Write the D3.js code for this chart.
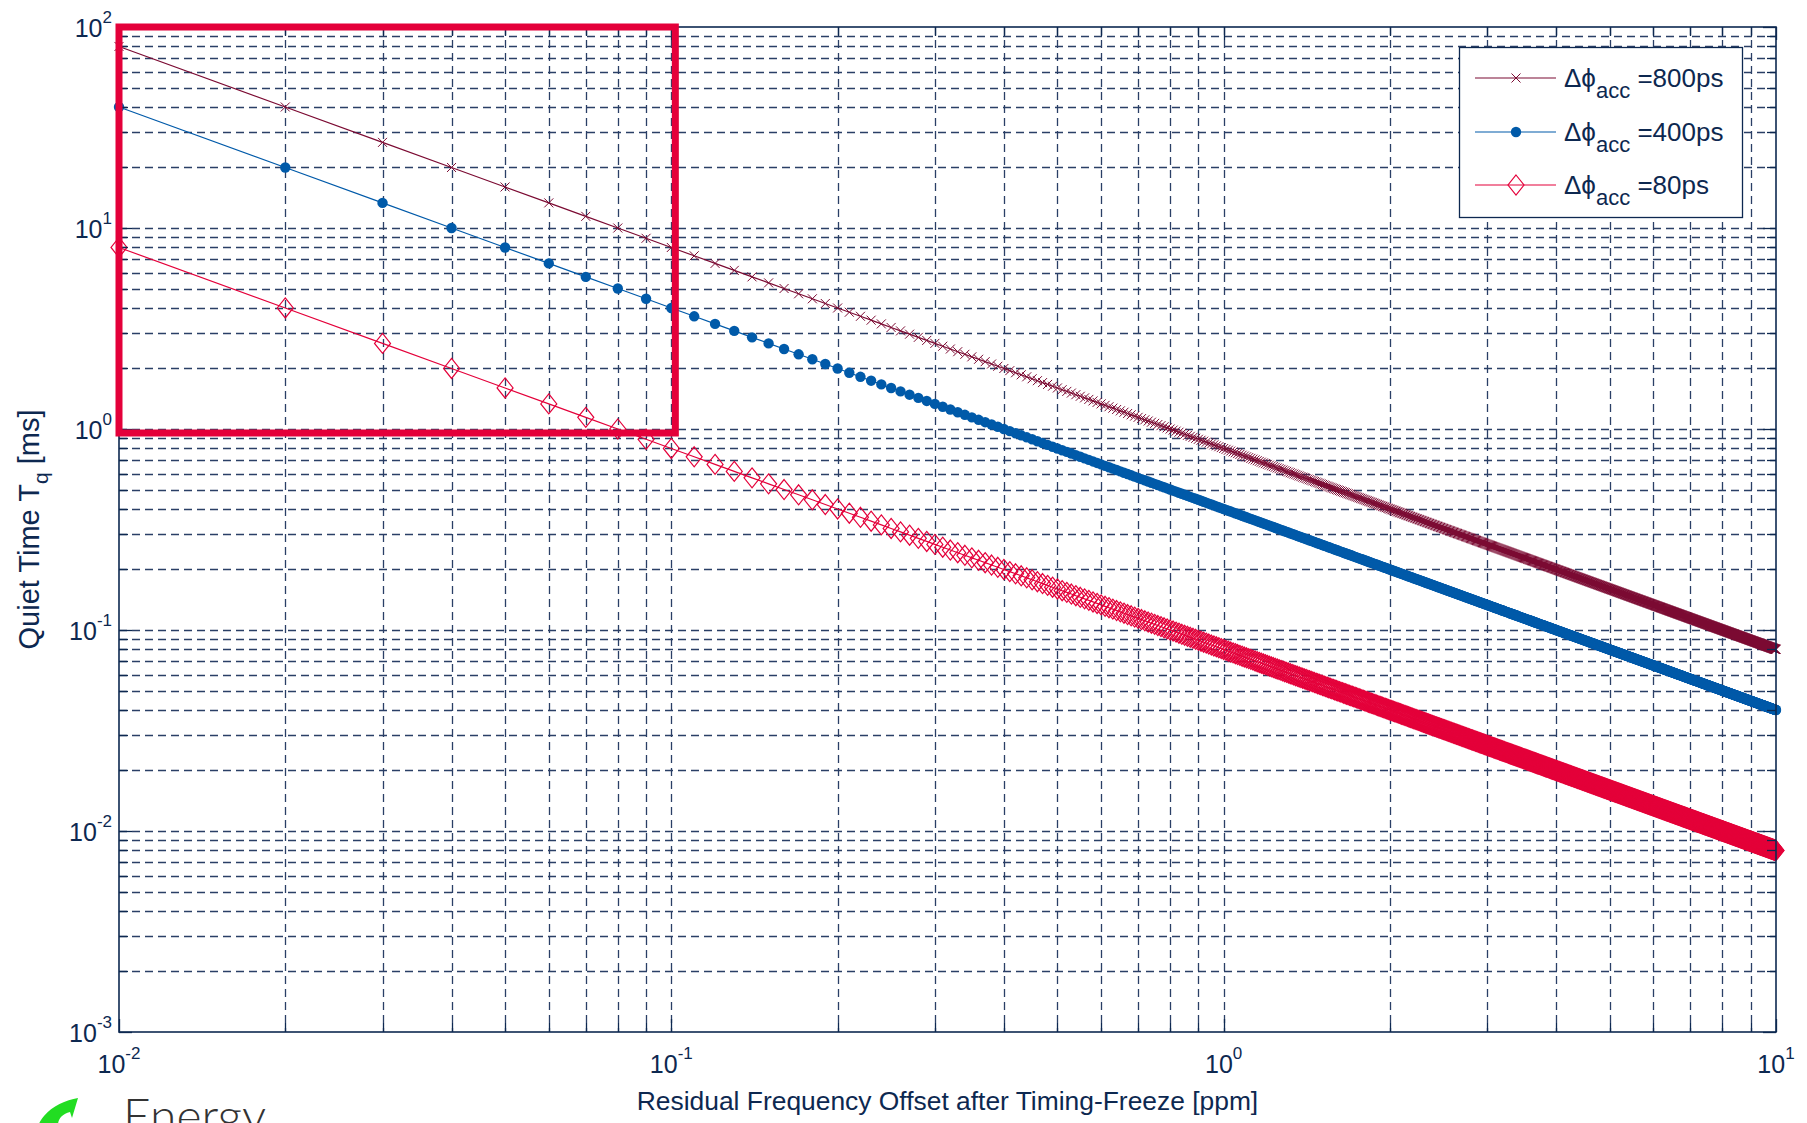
<!DOCTYPE html>
<html>
<head>
<meta charset="utf-8">
<script src="https://cdn.jsdelivr.net/npm/d3@7"></script>
<style>
  html, body { margin: 0; padding: 0; background: #ffffff; }
  svg { display: block; }
  text { font-family: "Liberation Sans", Arial, sans-serif; fill: #0d2850; }
</style>
</head>
<body>
<svg id="chart" width="1807" height="1123"></svg>
<script>
// Accumulated phase budgets (ps) for the three curves
const phaseBudgets = [800, 400, 80];
const seriesLabels = ["=800ps", "=400ps", "=80ps"];
const seriesColors = ["#7b0a32", "#005aa9", "#e4003a"];
const seriesMarkers = ["cross", "dot", "diamond"];

// Residual frequency offset sample grid (ppm): 0.01 ... 10 in steps of 0.01
const offsetSamples = d3.range(1, 1001).map(i => i / 100);

// Axis limits and decade tick labels
const xDomain = [0.01, 10];
const yDomain = [0.001, 100];
const xTickExponents = [-2, -1, 0, 1];
const yTickExponents = [-3, -2, -1, 0, 1, 2];

// Quiet time T_q [ms] = phase budget / frequency offset
// (ps / ppm = 1e-12 s / 1e-6 = 1e-6 s  ->  1e-3 ms)
const series = phaseBudgets.map((phi, k) => ({
  phi,
  label: seriesLabels[k],
  color: seriesColors[k],
  marker: seriesMarkers[k],
  points: offsetSamples.map(f => ({ f, t: phi / f * 1e-3 }))
}));

const svg = d3.select("#chart");
const plotL = 119, plotR = 1776, plotT = 27, plotB = 1032;

const x = d3.scaleLog().domain(xDomain).range([plotL, plotR]);
const y = d3.scaleLog().domain(yDomain).range([plotB, plotT]);

const navy = "#0d2850";

// decade + minor tick values
function logTicks(lo, hi) {
  const out = [];
  for (let e = Math.round(Math.log10(lo)); e < Math.round(Math.log10(hi)); e++) {
    for (let m = 1; m <= 9; m++) out.push(m * Math.pow(10, e));
  }
  out.push(hi);
  return out;
}
const xTicks = logTicks(xDomain[0], xDomain[1]);
const yTicks = logTicks(yDomain[0], yDomain[1]);
const isMajor = v => Math.abs(Math.log10(v) - Math.round(Math.log10(v))) < 1e-9;

// grid
const grid = svg.append("g").attr("stroke", "#2a3f66").attr("stroke-width", 1.3)
  .attr("stroke-dasharray", "8,5").attr("fill", "none");
grid.selectAll("line.gx").data(xTicks.filter(v => v > xDomain[0] * 1.001 && v < xDomain[1] * 0.999)).join("line")
  .attr("x1", d => Math.round(x(d)) + 0.5).attr("x2", d => Math.round(x(d)) + 0.5)
  .attr("y1", plotT).attr("y2", plotB);
grid.selectAll("line.gy").data(yTicks.filter(v => v > yDomain[0] * 1.001 && v < yDomain[1] * 0.999)).join("line")
  .attr("y1", d => Math.round(y(d)) + 0.5).attr("y2", d => Math.round(y(d)) + 0.5)
  .attr("x1", plotL).attr("x2", plotR);

// series
svg.append("clipPath").attr("id", "plotclip").append("rect")
  .attr("x", plotL - 12).attr("y", plotT - 12).attr("width", plotR - plotL + 24).attr("height", plotB - plotT + 24);

const line = d3.line().x(d => x(d.f)).y(d => y(d.t));

function drawMarker(g, type, color, px, py) {
  if (type === "cross") {
    const s = 4.5;
    g.append("path").attr("d", `M${px - s},${py - s}L${px + s},${py + s}M${px - s},${py + s}L${px + s},${py - s}`)
      .attr("stroke", color).attr("stroke-width", 1.0).attr("fill", "none");
  } else if (type === "dot") {
    g.append("circle").attr("cx", px).attr("cy", py).attr("r", 5.2).attr("fill", color);
  } else {
    g.append("path").attr("d", `M${px},${py - 10}L${px + 8},${py}L${px},${py + 10}L${px - 8},${py}Z`)
      .attr("stroke", color).attr("stroke-width", 1.2).attr("fill", "none");
  }
}

const plot = svg.append("g").attr("clip-path", "url(#plotclip)");
series.forEach(s => {
  const g = plot.append("g");
  g.append("path").datum(s.points).attr("d", line)
    .attr("fill", "none").attr("stroke", s.color).attr("stroke-width", 1.2);
  s.points.forEach(p => drawMarker(g, s.marker, s.color, x(p.f), y(p.t)));
});

// axes box with inward ticks on all four sides
const axes = svg.append("g").attr("stroke", navy).attr("fill", "none");
axes.append("rect").attr("x", plotL).attr("y", plotT).attr("width", plotR - plotL).attr("height", plotB - plotT)
  .attr("stroke-width", 1.6);
xTicks.forEach(v => {
  const len = isMajor(v) ? 13 : 9, px = Math.round(x(v)) + 0.5;
  axes.append("line").attr("x1", px).attr("x2", px).attr("y1", plotB).attr("y2", plotB - len).attr("stroke-width", 1.3);
  axes.append("line").attr("x1", px).attr("x2", px).attr("y1", plotT).attr("y2", plotT + len).attr("stroke-width", 1.3);
});
yTicks.forEach(v => {
  const len = isMajor(v) ? 13 : 9, py = Math.round(y(v)) + 0.5;
  axes.append("line").attr("y1", py).attr("y2", py).attr("x1", plotL).attr("x2", plotL + len).attr("stroke-width", 1.3);
  axes.append("line").attr("y1", py).attr("y2", py).attr("x1", plotR).attr("x2", plotR - len).attr("stroke-width", 1.3);
});

// tick labels 10^n
xTickExponents.forEach(e => {
  const t = svg.append("text").attr("x", x(Math.pow(10, e))).attr("y", plotB + 41)
    .attr("text-anchor", "middle").attr("font-size", 25);
  t.append("tspan").text("10");
  t.append("tspan").attr("dy", -14).attr("font-size", 17).text(String(e));
});
yTickExponents.forEach(e => {
  const t = svg.append("text").attr("x", plotL - 7).attr("y", y(Math.pow(10, e)) + 10)
    .attr("text-anchor", "end").attr("font-size", 25);
  t.append("tspan").text("10");
  t.append("tspan").attr("dy", -14).attr("font-size", 17).text(String(e));
});

// axis titles
svg.append("text").attr("x", (plotL + plotR) / 2).attr("y", 1110).attr("text-anchor", "middle")
  .attr("font-size", 26.4).text("Residual Frequency Offset after Timing-Freeze [ppm]");
const yl = svg.append("text").attr("transform", `translate(39,${(plotT + plotB) / 2}) rotate(-90)`)
  .attr("text-anchor", "middle").attr("font-size", 29);
yl.append("tspan").text("Quiet Time T");
yl.append("tspan").attr("dy", 9).attr("font-size", 21).text("q");
yl.append("tspan").attr("dy", -9).text(" [ms]");

// legend
const lg = svg.append("g");
lg.append("rect").attr("x", 1459.5).attr("y", 47.5).attr("width", 283).attr("height", 170)
  .attr("fill", "#ffffff").attr("stroke", navy).attr("stroke-width", 1.3);
const legendRows = [78, 132, 185];
series.forEach((s, i) => {
  const ly = legendRows[i];
  lg.append("line").attr("x1", 1475).attr("x2", 1556).attr("y1", ly).attr("y2", ly)
    .attr("stroke", s.color).attr("stroke-width", 1.2);
  drawMarker(lg, s.marker, s.color, 1516, ly);
  const t = lg.append("text").attr("x", 1564).attr("y", ly + 9).attr("font-size", 26);
  t.append("tspan").text("\u0394\u03D5");
  t.append("tspan").attr("dy", 11).attr("font-size", 22).text("acc");
  t.append("tspan").attr("dy", -11).text(" " + s.label);
});

// highlight frame around the low-offset region
svg.append("rect")
  .attr("x", x(0.01)).attr("y", y(100))
  .attr("width", x(0.1) + 4 - x(0.01)).attr("height", y(1) + 4 - y(100))
  .attr("fill", "none").attr("stroke", "#e4003a").attr("stroke-width", 7);

// footer logo
const logo = svg.append("g");
logo.append("path")
  .attr("d", "M78,1098 C66,1100 52,1106 44,1116 C40,1121 39,1123 39,1125 L58,1125 C58,1119 62,1114 70,1112 L72,1118 Z")
  .attr("fill", "#22dd22");
svg.append("text").attr("x", 123).attr("y", 1133).attr("font-size", 48)
  .style("font-family", "Lato, 'Open Sans', sans-serif").style("font-weight", 300).style("fill", "#333333")
  .text("Energy");
</script>
</body>
</html>
